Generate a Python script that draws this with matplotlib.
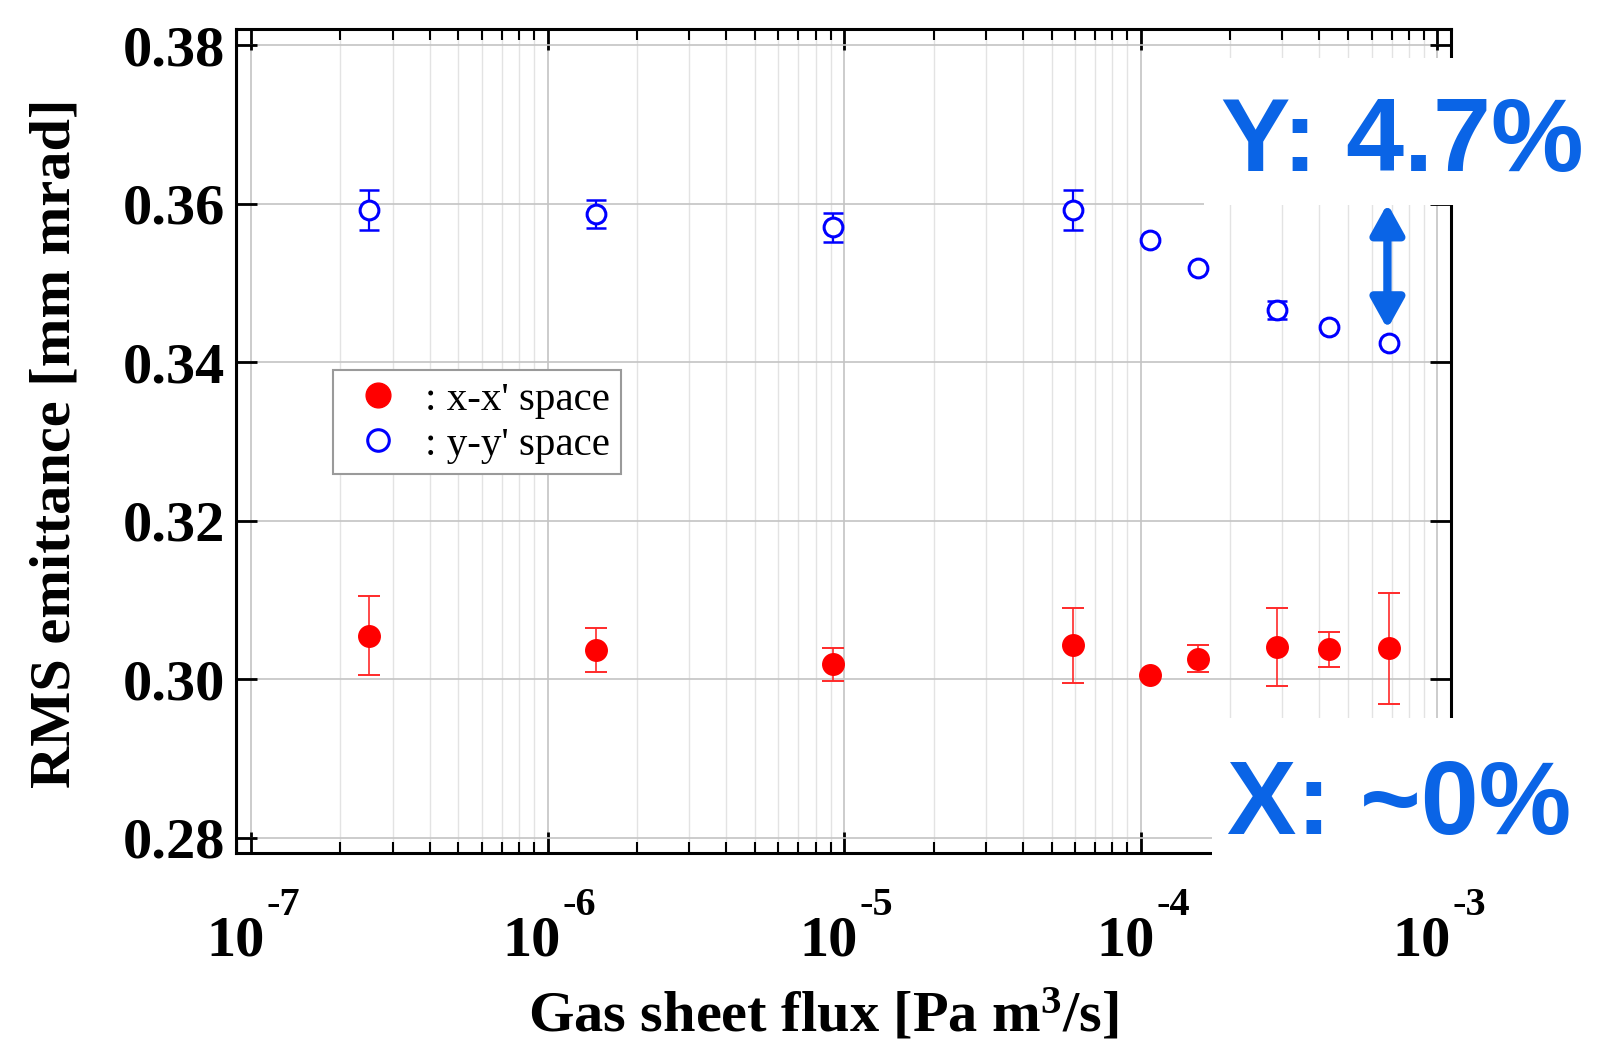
import numpy as np
import matplotlib
matplotlib.use('Agg')
import matplotlib.pyplot as plt
from matplotlib.lines import Line2D
from matplotlib.patches import Rectangle
from matplotlib.transforms import offset_copy
from matplotlib.ticker import LogLocator, FixedLocator, FuncFormatter, NullFormatter

# data
flux = [2.49e-7, 1.45e-6, 9.15e-6, 5.9e-5, 1.075e-4, 1.56e-4, 2.88e-4, 4.32e-4, 6.88e-4]
emit_x = [0.3055, 0.3037, 0.3019, 0.3043, 0.3006, 0.3026, 0.3041, 0.3038, 0.3039]
err_x = [0.0050, 0.0028, 0.0021, 0.0047, 0.0, 0.0017, 0.0049, 0.0022, 0.0070]
emit_y = [0.3592, 0.3587, 0.3570, 0.3592, 0.3554, 0.3519, 0.3466, 0.3445, 0.3424]
err_y = [0.0025, 0.0018, 0.0018, 0.0025, 0.0, 0.0, 0.0011, 0.0, 0.0]

y_ticks = [0.28, 0.30, 0.32, 0.34, 0.36, 0.38]
legend_labels = [": x-x' space", ": y-y' space"]
note_y = 'Y: 4.7%'
note_x = 'X: ~0%'
arrow_x = 6.78e-4
arrow_span = (0.3600, 0.3442)

blue_note = '#0a64e6'

plt.rcParams['font.family'] = ['Liberation Serif', 'DejaVu Serif']
plt.rcParams['font.weight'] = 'bold'
plt.rcParams['mathtext.fontset'] = 'custom'
plt.rcParams['mathtext.rm'] = 'Liberation Serif:bold'
plt.rcParams['mathtext.bf'] = 'Liberation Serif:bold'
plt.rcParams['mathtext.it'] = 'Liberation Serif:bold'

fig = plt.figure(figsize=(15.99, 10.43), dpi=100, facecolor='white')
ax = fig.add_axes([0.1476, 0.1822, 0.9074 - 0.1476, 0.9719 - 0.1822])

flux = np.array(flux)
emit_x = np.array(emit_x)
emit_y = np.array(emit_y)
err_x = np.array(err_x)
err_y = np.array(err_y)

# error bars (only where there is one)
mx = err_x > 0
ax.errorbar(flux[mx], emit_x[mx], yerr=err_x[mx], fmt='none', ecolor='#ff2a2a',
            elinewidth=1.2, capsize=8, capthick=1.4, zorder=3)
my = err_y > 0
ax.errorbar(flux[my], emit_y[my], yerr=err_y[my], fmt='none', ecolor='#0000ff',
            elinewidth=1.6, capsize=7.5, capthick=1.8, zorder=3)

# markers
ax.plot(flux, emit_x, ls='none', marker='o', ms=15.5, color='#ff0000', mec='#ff0000', zorder=4)
ax.plot(flux, emit_y, ls='none', marker='o', ms=13.5, mfc='white', mec='#0000ff', mew=2.2, zorder=4)

ax.set_xscale('log')
xlim = (8.9e-8, 1.11e-3)
ax.set_xlim(*xlim)
ax.set_ylim(0.2781, 0.3820)

ax.xaxis.set_major_locator(LogLocator(base=10, numticks=12))
ax.xaxis.set_minor_locator(LogLocator(base=10, subs=np.arange(2, 10), numticks=12))
ax.xaxis.set_minor_formatter(NullFormatter())
ax.xaxis.set_major_formatter(NullFormatter())
ax.yaxis.set_major_locator(FixedLocator(y_ticks))
ax.yaxis.set_major_formatter(FuncFormatter(lambda v, p: '%.2f' % v))

ax.grid(which='major', color='#c4c4c4', lw=1.2, zorder=0)
ax.grid(which='minor', axis='x', color='#e3e3e3', lw=1.0, zorder=0)
ax.set_axisbelow(True)

for s in ax.spines.values():
    s.set_linewidth(2.2)
ax.tick_params(which='both', direction='in', top=True, right=True, width=2)
ax.tick_params(which='major', length=15)
ax.tick_params(which='minor', length=8, width=1.5)
ax.tick_params(axis='y', labelsize=42, pad=8)

# x tick labels drawn as "10" with a raised exponent, like the original
xt = ax.get_xaxis_transform()
for t in ax.get_xticks():
    if not (xlim[0] <= t <= xlim[1]):
        continue
    e = int(round(np.log10(t)))
    ax.text(t, 0, '10', transform=offset_copy(xt, fig=fig, x=9.7, y=-73.5, units='points'),
            fontsize=42, fontweight='bold', ha='right', va='baseline')
    ax.text(t, 0, '-%d' % abs(e), transform=offset_copy(xt, fig=fig, x=11.0, y=-44.5, units='points'),
            fontsize=29, fontweight='bold', ha='left', va='baseline')

ax.set_ylabel('RMS emittance [mm mrad]', fontsize=42, fontweight='bold')
ax.yaxis.set_label_coords(-0.127, 0.497)
ax.set_xlabel('Gas sheet flux [Pa m$^{3}$/s]', fontsize=42, fontweight='bold')
ax.xaxis.label.set_va('baseline')
ax.xaxis.set_label_coords(0.4835, -0.2173)

# legend
handles = [Line2D([], [], ls='none', marker='o', ms=15.5, color='#ff0000'),
           Line2D([], [], ls='none', marker='o', ms=13.5, mfc='white', mec='#0000ff', mew=2.2)]
leg = ax.legend(handles, legend_labels, loc='upper left', bbox_to_anchor=(0.0795, 0.586),
                borderaxespad=0, prop={'family': 'Liberation Serif', 'weight': 'normal', 'size': 29.5},
                frameon=True, fancybox=False, edgecolor='#9a9a9a', framealpha=1,
                handlelength=1.7, handletextpad=0.3, labelspacing=0.18, borderpad=0.26,
                markerscale=1.15)
leg.get_frame().set_linewidth(1.5)

# white patches behind the big notes
fig.add_artist(Rectangle((0.753, 0.8034), 0.25, 0.944 - 0.8034, transform=fig.transFigure,
                         facecolor='white', edgecolor='none', zorder=5))
fig.add_artist(Rectangle((0.758, 0.1697), 0.25, 0.3116 - 0.1697, transform=fig.transFigure,
                         facecolor='white', edgecolor='none', zorder=5))
fig.text(0.7634, 0.8363, note_y, fontsize=75, family='Liberation Sans', fontweight='bold',
         color=blue_note, ha='left', va='baseline', zorder=6)
fig.text(0.7674, 0.2004, note_x, fontsize=75, family='Liberation Sans', fontweight='bold',
         color=blue_note, ha='left', va='baseline', zorder=6)

ax.annotate('', xy=(arrow_x, arrow_span[1]), xytext=(arrow_x, arrow_span[0]),
            arrowprops=dict(arrowstyle='<|-|>,head_length=0.9,head_width=0.5',
                            lw=6, color=blue_note, shrinkA=0, shrinkB=0,
                            mutation_scale=20), zorder=6)

fig.savefig('out.png', dpi=100, facecolor='white')
